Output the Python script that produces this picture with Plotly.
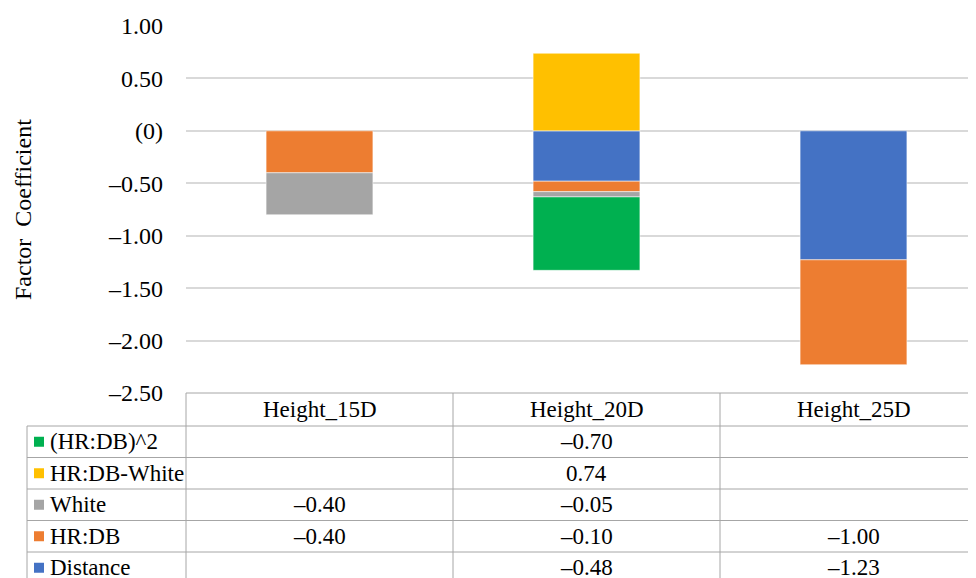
import plotly.graph_objects as go

categories = ["Height_15D", "Height_20D", "Height_25D"]
series_names = ["Distance", "HR:DB", "White", "HR:DB-White", "(HR:DB)^2"]
distance = [None, -0.48, -1.23]
hrdb = [-0.40, -0.10, -1.00]
white = [-0.40, -0.05, None]
hrdb_white = [None, 0.74, None]
hrdb_sq = [None, -0.70, None]
series_values = [distance, hrdb, white, hrdb_white, hrdb_sq]
colors = ["#4472C4", "#ED7D31", "#A5A5A5", "#FFC000", "#00B050"]
tick_vals = [1.0, 0.5, 0.0, -0.5, -1.0, -1.5, -2.0, -2.5]

W, H = 976, 578
OFF = 8  # page body margin offset
FONT = "Liberation Serif"

def fmt(v):
    if v == 0:
        return "(0)"
    return f"{v:.2f}".replace("-", "\u2013")

def px(p):
    return (p - OFF) / W

def py(p):
    return 1 - (p - OFF) / H

# layout geometry (screen pixels)
plot_left, plot_top, plot_bottom = 186, 26, 393
cat_w = 267.0
x_lo = -0.5
x_hi = x_lo + (W + OFF - plot_left) / cat_w

fig = go.Figure()
for name, vals, col in zip(series_names, series_values, colors):
    fig.add_trace(go.Bar(
        x=categories, y=vals, name=name, marker_color=col,
        marker_line=dict(color="rgba(255,255,255,0.5)", width=1),
        width=0.4, showlegend=False,
    ))

ticktext = [fmt(v) for v in tick_vals]

fig.update_layout(
    width=W, height=H, autosize=False,
    margin=dict(l=0, r=0, t=0, b=0, pad=0),
    paper_bgcolor="white", plot_bgcolor="white",
    barmode="relative",
    font=dict(family=FONT, color="#000000"),
    xaxis=dict(domain=[px(plot_left), 1], range=[x_lo, x_hi],
               showticklabels=False, showgrid=False, zeroline=False,
               showline=False, ticks="", automargin=False),
    yaxis=dict(domain=[py(plot_bottom), py(plot_top)], range=[-2.5, 1.0],
               tickvals=tick_vals, ticktext=ticktext,
               tickfont=dict(size=24, family=FONT, color="#000000"),
               showgrid=True, gridcolor="#D9D9D9", gridwidth=1.5,
               zeroline=False, showline=False, ticks="",
               ticklabelstandoff=22, automargin=False),
)

annotations = [dict(
    text="Factor&nbsp;&nbsp;Coefficient", xref="paper", yref="paper",
    x=px(23), y=py(210), textangle=-90, showarrow=False,
    font=dict(size=24, family=FONT, color="#000000"),
    xanchor="center", yanchor="middle",
)]

line_col = "#A6A6A6"
header_top, header_bot = 393, 426
row_h = 31.5
row_series = list(reversed(range(len(series_names))))
legend_left = 27

def cat_px(c):
    return plot_left + (c - x_lo) * cat_w

shapes = []
shapes.append(dict(type="line", xref="paper", yref="paper",
                   x0=px(plot_left), x1=1, y0=py(header_top), y1=py(header_top),
                   line=dict(color=line_col, width=1)))
for i in range(len(row_series) + 1):
    yy = header_bot + i * row_h
    shapes.append(dict(type="line", xref="paper", yref="paper",
                       x0=px(legend_left), x1=1, y0=py(yy), y1=py(yy),
                       line=dict(color=line_col, width=1)))
shapes.append(dict(type="line", xref="paper", yref="paper",
                   x0=px(plot_left), x1=px(plot_left), y0=py(header_top), y1=0,
                   line=dict(color=line_col, width=1)))
shapes.append(dict(type="line", xref="paper", yref="paper",
                   x0=px(legend_left), x1=px(legend_left), y0=py(header_bot), y1=0,
                   line=dict(color=line_col, width=1)))
for c in range(len(categories) - 1):
    xx = cat_px(c + 0.5)
    shapes.append(dict(type="line", xref="paper", yref="paper",
                       x0=px(xx), x1=px(xx), y0=py(header_top), y1=0,
                       line=dict(color=line_col, width=1)))

cell_font = dict(size=23, family=FONT, color="#000000")
for c, cat in enumerate(categories):
    annotations.append(dict(text=cat, xref="paper", yref="paper",
                            x=px(cat_px(c)), y=py((header_top + header_bot) / 2),
                            showarrow=False, xanchor="center", yanchor="middle",
                            font=cell_font))
for r, si in enumerate(row_series):
    yc = header_bot + r * row_h + row_h / 2
    shapes.append(dict(type="rect", xref="paper", yref="paper",
                       x0=px(34), x1=px(44), y0=py(yc - 5), y1=py(yc + 5),
                       fillcolor=colors[si], line=dict(width=0)))
    annotations.append(dict(text=series_names[si], xref="paper", yref="paper",
                            x=px(48), y=py(yc), showarrow=False,
                            xanchor="left", yanchor="middle", font=cell_font))
    for c, v in enumerate(series_values[si]):
        if v is None:
            continue
        annotations.append(dict(text=fmt(v), xref="paper", yref="paper",
                                x=px(cat_px(c)), y=py(yc), showarrow=False,
                                xanchor="center", yanchor="middle", font=cell_font))

fig.update_layout(shapes=shapes, annotations=annotations)
fig.write_html("out.html")
